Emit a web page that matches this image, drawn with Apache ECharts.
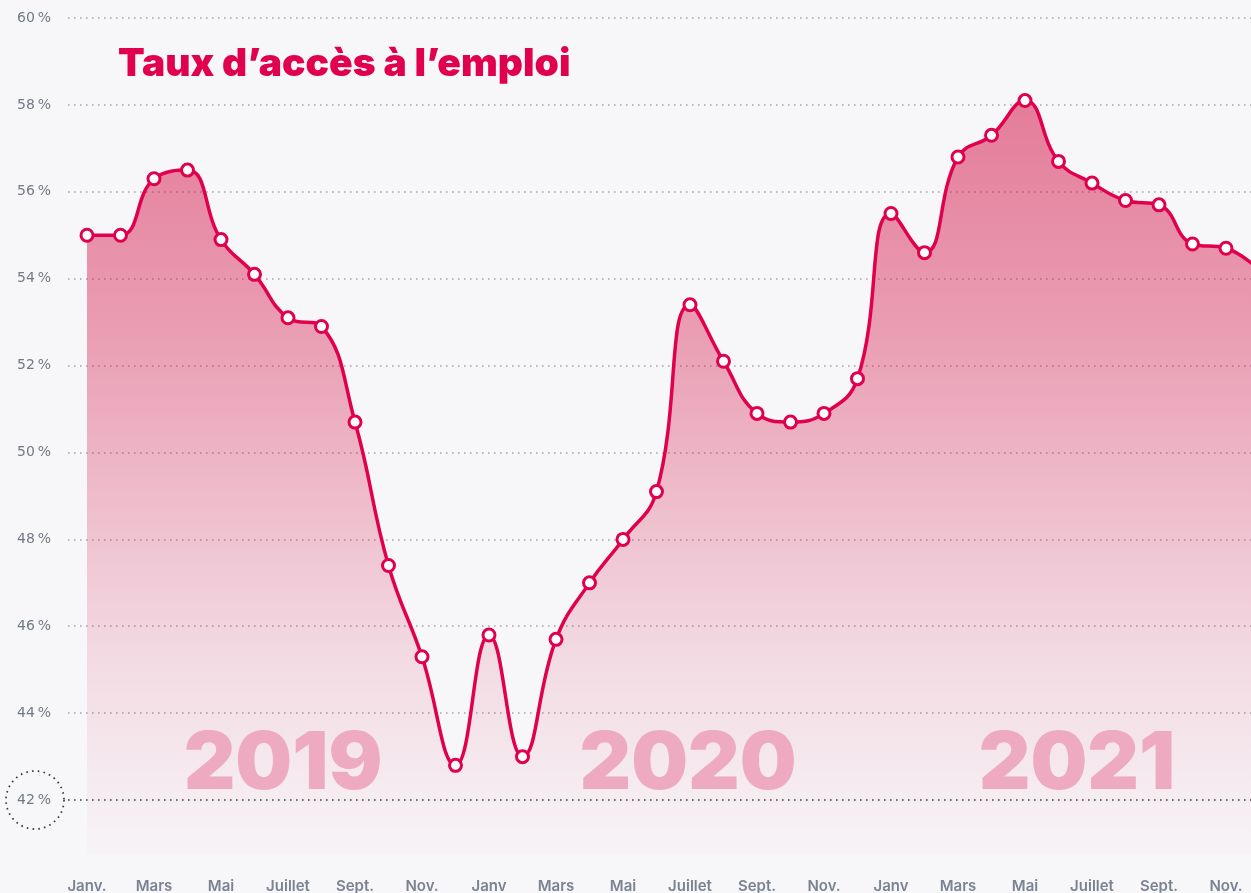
<!DOCTYPE html>
<html lang="fr">
<head>
<meta charset="utf-8">
<title>Taux d’accès à l’emploi</title>
<script src="https://cdn.jsdelivr.net/npm/echarts@6/dist/echarts.min.js"></script>
<style>
  html, body { margin: 0; padding: 0; background: #f7f7f9; }
  #chart { width: 1251px; height: 893px; }
</style>
</head>
<body>
<div id="chart"></div>
<script>
// Monthly series, January 2019 to December 2021
const months = [
  '2019-01','2019-02','2019-03','2019-04','2019-05','2019-06','2019-07','2019-08','2019-09','2019-10','2019-11','2019-12',
  '2020-01','2020-02','2020-03','2020-04','2020-05','2020-06','2020-07','2020-08','2020-09','2020-10','2020-11','2020-12',
  '2021-01','2021-02','2021-03','2021-04','2021-05','2021-06','2021-07','2021-08','2021-09','2021-10','2021-11','2021-12'
];

// Employment access rate (%)
const tauxAcces = [
  55.0, 55.0, 56.3, 56.5, 54.9, 54.1, 53.1, 52.9, 50.7, 47.4, 45.3, 42.8,
  45.8, 43.0, 45.7, 47.0, 48.0, 49.1, 53.4, 52.1, 50.9, 50.7, 50.9, 51.7,
  55.5, 54.6, 56.8, 57.3, 58.1, 56.7, 56.2, 55.8, 55.7, 54.8, 54.7, 54.2
];

// Labels shown under every second month
const monthTickLabels = [
  'Janv.', 'Mars', 'Mai', 'Juillet', 'Sept.', 'Nov.',
  'Janv', 'Mars', 'Mai', 'Juillet', 'Sept.', 'Nov.',
  'Janv', 'Mars', 'Mai', 'Juillet', 'Sept.', 'Nov.'
];

// Percentage gridlines
const yTicks = [42, 44, 46, 48, 50, 52, 54, 56, 58, 60];

const yearLabels = ['2019', '2020', '2021'];

const titleText = 'Taux d’accès à l’emploi';

const RED = '#e0004d';
const chart = echarts.init(document.getElementById('chart'), null, { renderer: 'canvas' });

const gridLineColors = yTicks.map(v => v === 42 ? '#3d3d45' : '#a4a6ad');

chart.setOption({
  backgroundColor: '#f7f7f9',
  animation: false,
  title: {
    text: titleText,
    left: 113,
    top: 40,
    textStyle: {
      fontFamily: 'Inter, "Open Sans", sans-serif',
      fontWeight: 900,
      fontSize: 39,
      color: RED
    }
  },
  grid: [
    // gridlines and percentage labels
    { left: 68, right: 0, top: 18, bottom: 93, outerBoundsMode: 'none' },
    // data area; December 2021 sits just past the right edge
    { left: 87, width: 1172.5, top: 18, bottom: 38, outerBoundsMode: 'none' }
  ],
  xAxis: [
    { gridIndex: 0, type: 'value', show: false, min: 0, max: 1 },
    {
      gridIndex: 1,
      type: 'category',
      data: months,
      boundaryGap: false,
      axisLine: { show: false },
      axisTick: { show: false },
      axisLabel: {
        interval: 0,
        margin: 24,
        fontFamily: 'Inter, sans-serif',
        fontWeight: 600,
        fontSize: 15,
        color: '#7b8391',
        formatter: (v, i) => (i % 2 === 0 ? monthTickLabels[i / 2] : '')
      }
    }
  ],
  yAxis: [
    {
      gridIndex: 0,
      type: 'value',
      min: yTicks[0],
      max: yTicks[yTicks.length - 1],
      interval: 2,
      axisLine: { show: false },
      axisTick: { show: false },
      axisLabel: {
        margin: 17,
        fontFamily: '"DejaVu Sans", sans-serif',
        fontSize: 14,
        color: v => (v === 42 ? '#2e2e35' : '#727a86'),
        formatter: v => v + '\u2009%'
      },
      splitLine: {
        show: true,
        lineStyle: { color: gridLineColors, width: 1.6, type: [1.6, 4.4] }
      }
    },
    {
      gridIndex: 1,
      type: 'value',
      min: 40.737,
      max: 60,
      show: false,
      splitLine: { show: false }
    }
  ],
  series: [
    {
      type: 'line',
      xAxisIndex: 1,
      yAxisIndex: 1,
      data: tauxAcces,
      smooth: 0.45,
      symbol: 'circle',
      symbolSize: 12,
      lineStyle: { color: RED, width: 3.5 },
      itemStyle: { color: '#ffffff', borderColor: RED, borderWidth: 3 },
      areaStyle: {
        color: new echarts.graphic.LinearGradient(0, 0, 0, 1, [
          { offset: 0, color: 'rgba(212, 16, 70, 0.76)' },
          { offset: 0.3, color: 'rgba(212, 16, 70, 0.56)' },
          { offset: 0.75, color: 'rgba(212, 16, 70, 0.17)' },
          { offset: 1, color: 'rgba(212, 16, 70, 0.02)' }
        ])
      },
      z: 3
    }
  ]
});

// Year captions and the dotted ring around the 42% label
function drawDecor() {
  const y42 = chart.convertToPixel({ yAxisIndex: 0 }, 42);
  const yearCenters = [283, 688, 1077];
  const yCap = chart.convertToPixel({ yAxisIndex: 1 }, 42.82);
  const graphics = yearLabels.map((t, i) => ({
    type: 'text',
    x: yearCenters[i],
    y: yCap,
    z: 4,
    style: {
      text: t,
      fill: '#eeaac0',
      font: '900 80px Inter, sans-serif',
      align: 'center',
      verticalAlign: 'middle'
    }
  }));
  graphics.push({
    type: 'circle',
    z: 4,
    shape: { cx: 35, cy: y42, r: 29 },
    style: {
      fill: 'none',
      stroke: '#3d3d45',
      lineWidth: 1.8,
      lineDash: [1.6, 4.2]
    }
  });
  chart.setOption({ graphic: graphics });
}
drawDecor();
</script>
</body>
</html>
